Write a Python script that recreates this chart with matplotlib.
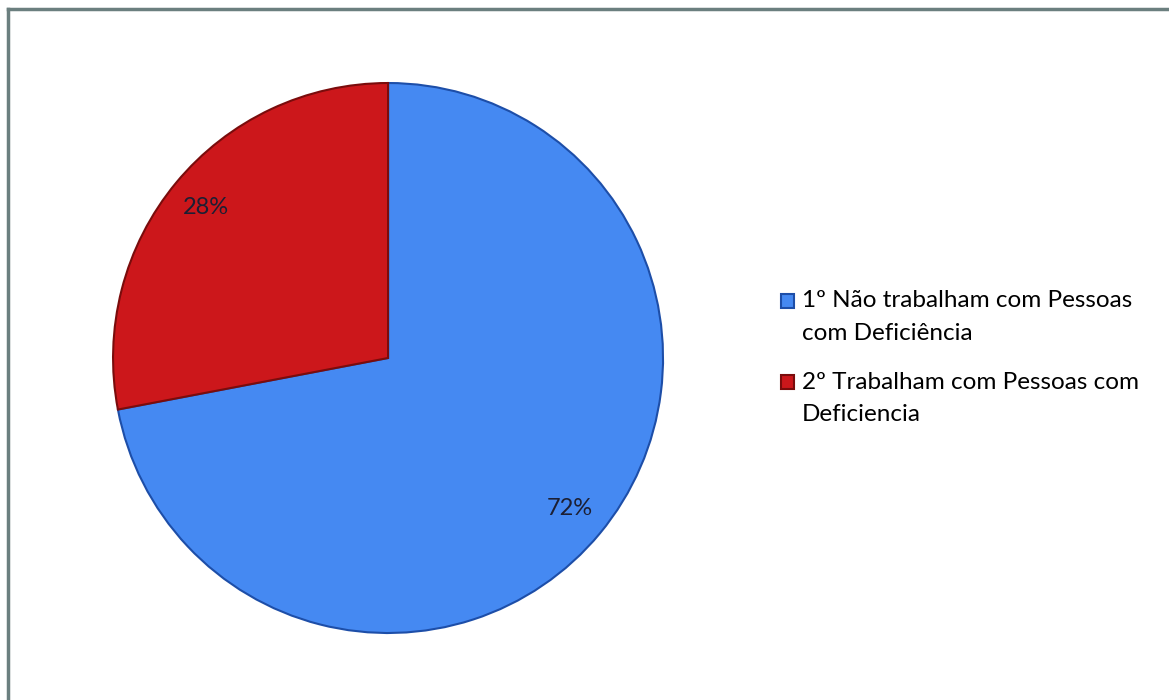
import matplotlib.pyplot as plt
from matplotlib.lines import Line2D
from matplotlib.patches import Rectangle, Wedge
from matplotlib.legend_handler import HandlerPatch

categories = [
    "1º Não trabalham com Pessoas\ncom Deficiência",
    "2º Trabalham com Pessoas com\nDeficiencia",
]
values = [72, 28]
colors = ["#4589f2", "#cc171b"]
edges = ["#1d4ea8", "#7a0c0c"]

plt.rcParams["font.family"] = ["Lato", "DejaVu Sans"]


def top_square(legend, orig_handle, xdescent, ydescent, width, height, fontsize):
    # put the marker next to the first line of the label, not in the middle
    return Rectangle((-xdescent, -ydescent + 11.5), width, height)


fig = plt.figure(figsize=(11.69, 7.0), dpi=100)
ax = fig.add_axes([0.0967, 0.0957, 0.4705, 0.7857])

wedges, texts, autotexts = ax.pie(
    values,
    colors=colors,
    startangle=90,
    counterclock=False,
    autopct="%d%%",
    pctdistance=0.86,
    wedgeprops=dict(linewidth=1.5),
    textprops=dict(fontsize=17, color="#1c1f33"),
)
for w, ec in zip(wedges, edges):
    w.set_edgecolor(ec)
ax.set_xlim(-1, 1)
ax.set_ylim(-1, 1)
ax.set_aspect("equal")

leg = fig.legend(
    wedges,
    categories,
    loc="upper left",
    bbox_to_anchor=(0.668, 0.585),
    frameon=False,
    fontsize=17.5,
    handlelength=0.55,
    handleheight=0.55,
    handletextpad=0.3,
    labelspacing=1.15,
    borderpad=0,
    borderaxespad=0,
    handler_map={Wedge: HandlerPatch(patch_func=top_square)},
)
for t in leg.get_texts():
    t.set_linespacing(1.65)

# frame lines at top and left like the source
fig.add_artist(Line2D([0.007, 0.007], [0.0, 0.987], color="#6b7f7f", lw=2.5))
fig.add_artist(Line2D([0.007, 1.0], [0.987, 0.987], color="#6b7f7f", lw=2.5))

fig.savefig("out.png", dpi=100)
